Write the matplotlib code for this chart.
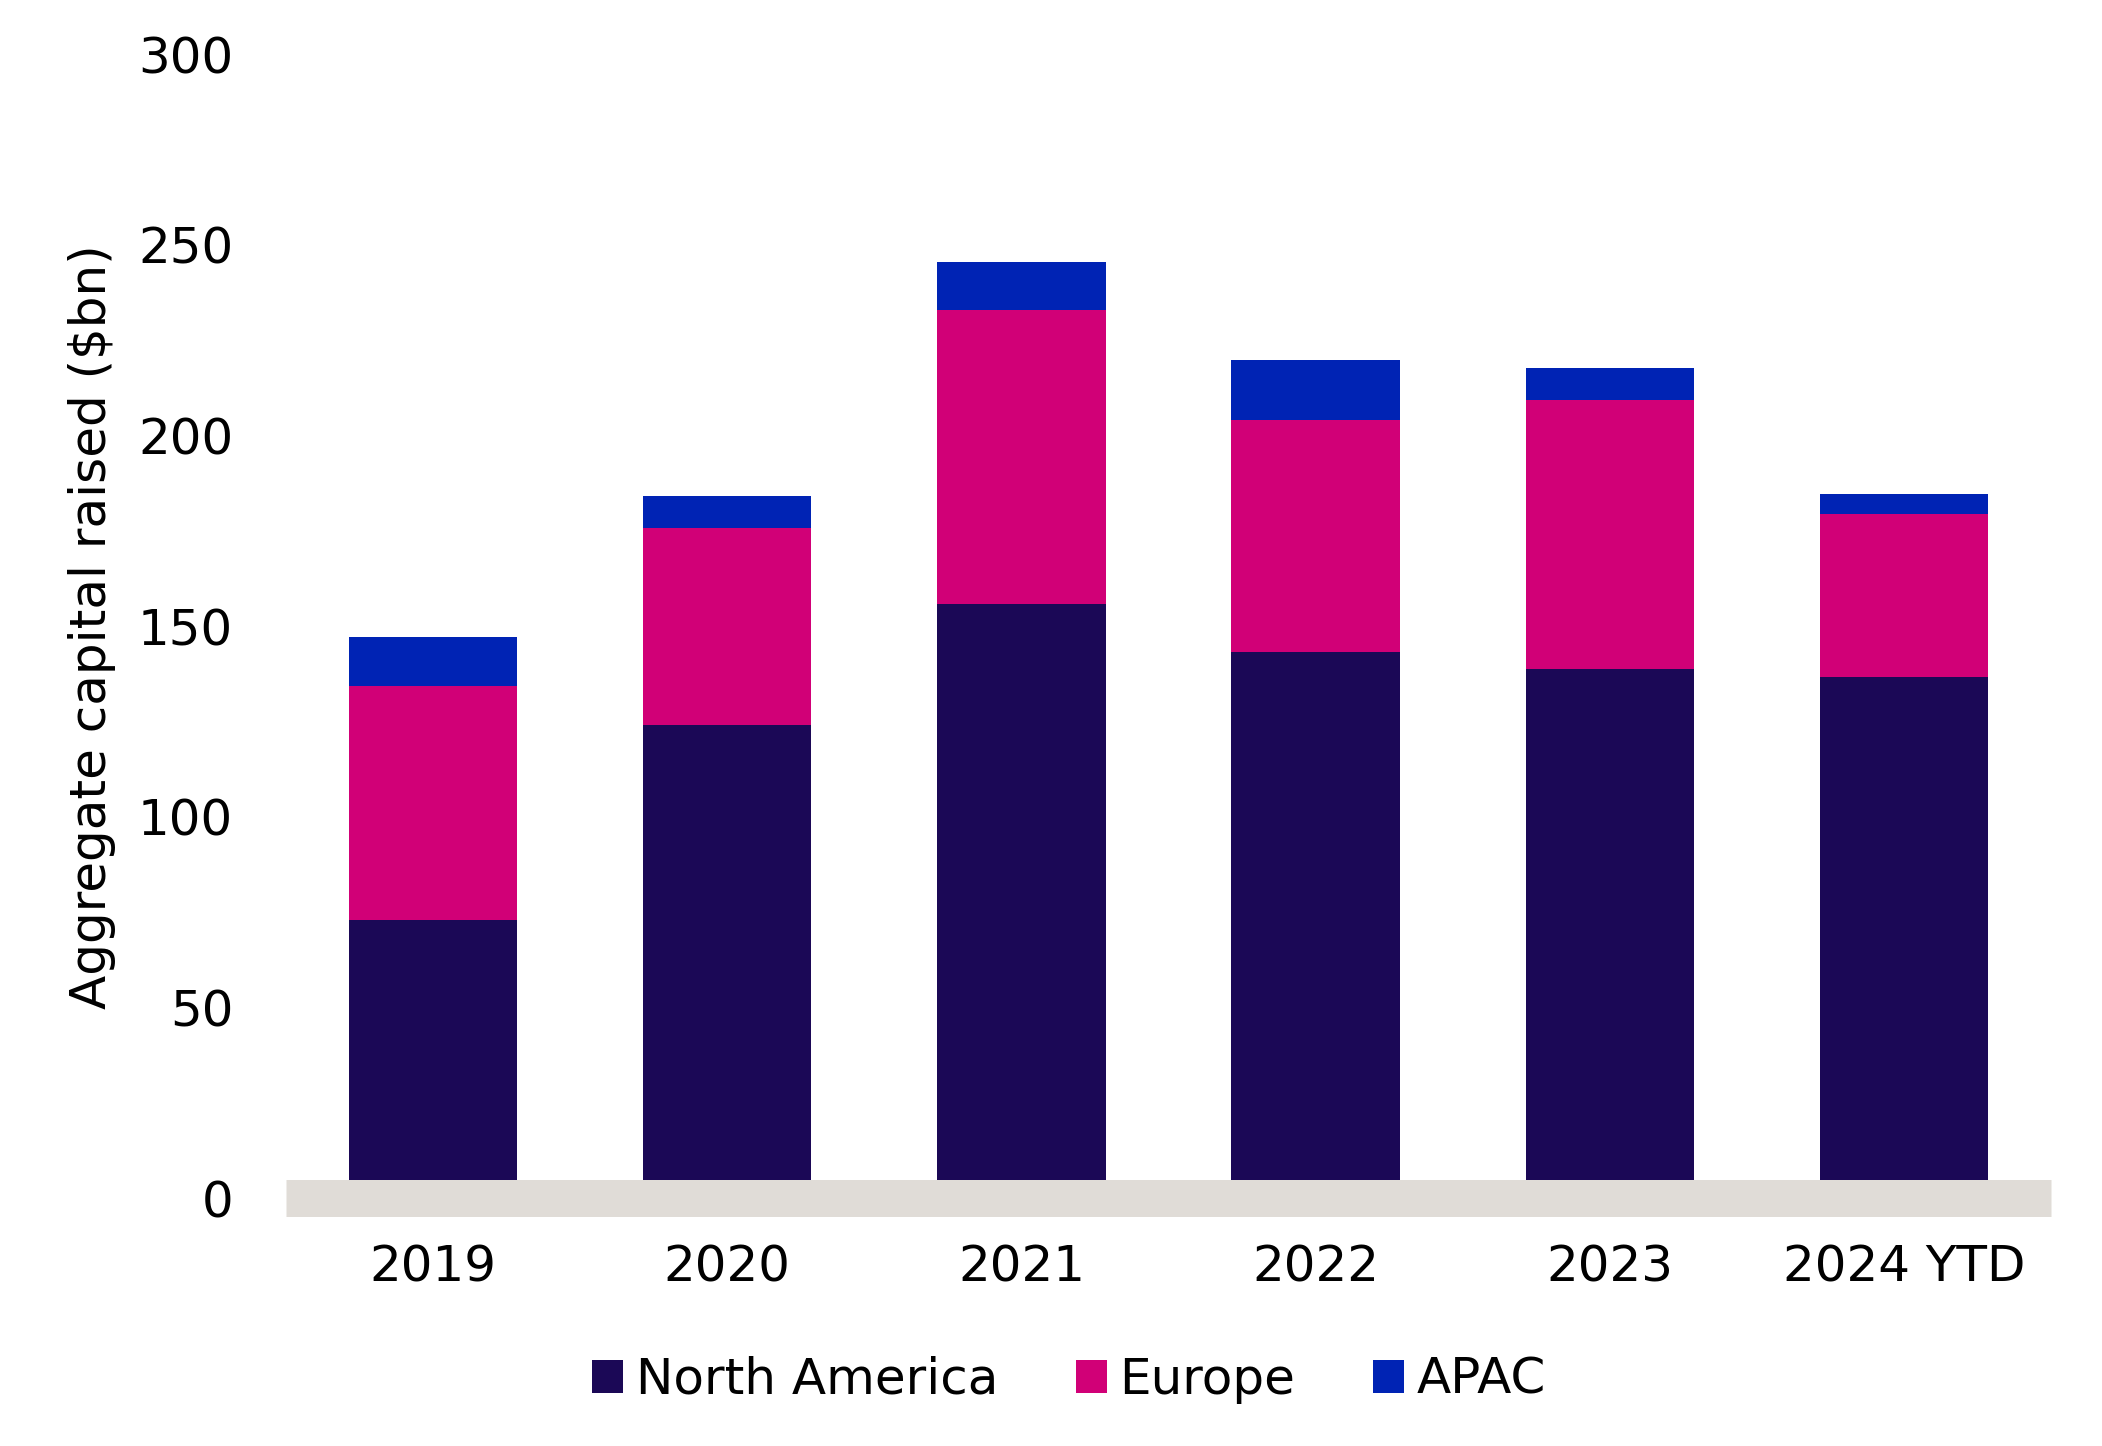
import matplotlib
matplotlib.use("Agg")
import matplotlib.pyplot as plt
import numpy as np

categories = ["2019", "2020", "2021", "2022", "2023", "2024 YTD"]
north_america = [72.9, 124.0, 155.7, 143.3, 138.9, 136.7]
europe = [61.3, 51.7, 77.2, 60.8, 70.4, 42.7]
apac = [13.0, 8.5, 12.6, 15.8, 8.4, 5.3]
series_names = ["North America", "Europe", "APAC"]
colors = ["#1B0856", "#D10077", "#0023B4"]
y_ticks = [0, 50, 100, 150, 200, 250, 300]

plt.rcParams['font.family'] = ['DejaVu Sans']
FS = 36

fig = plt.figure(figsize=(21.02, 14.46), dpi=100)
ax = fig.add_axes([286/2102, 1 - 1198/1446, (2051-286)/2102, (1198-54.4)/1446])

x = np.arange(len(categories))
w = 0.572
bottom = np.zeros(len(categories))
handles = []
for vals, name, c in zip([north_america, europe, apac], series_names, colors):
    b = ax.bar(x, vals, width=w, bottom=bottom, color=c, label=name, zorder=2)
    handles.append(b)
    bottom = bottom + np.array(vals)

ax.set_xlim(-0.5, 5.5)
ax.set_ylim(0, 300)
ax.axhline(0, color="#E0DCD7", lw=37*72/100, solid_capstyle="butt", clip_on=False, zorder=3)

for s in ax.spines.values():
    s.set_visible(False)
ax.set_yticks(y_ticks)
ax.set_yticklabels([str(t) for t in y_ticks], fontsize=FS)
ax.set_xticks(x)
ax.set_xticklabels(categories, fontsize=FS)
ax.tick_params(axis='both', length=0)
ax.tick_params(axis='y', pad=38)
ax.tick_params(axis='x', pad=33)
ax.set_ylabel("Aggregate capital raised ($bn)", fontsize=FS, labelpad=16)

fig.legend(handles=handles, labels=series_names, loc="center",
           bbox_to_anchor=(1069/2102, 1 - 1380/1446), ncol=3, frameon=False,
           fontsize=FS, handlelength=0.62, handleheight=0.62,
           handletextpad=0.25, columnspacing=1.55)

fig.savefig("out.png", dpi=100, facecolor="white")
